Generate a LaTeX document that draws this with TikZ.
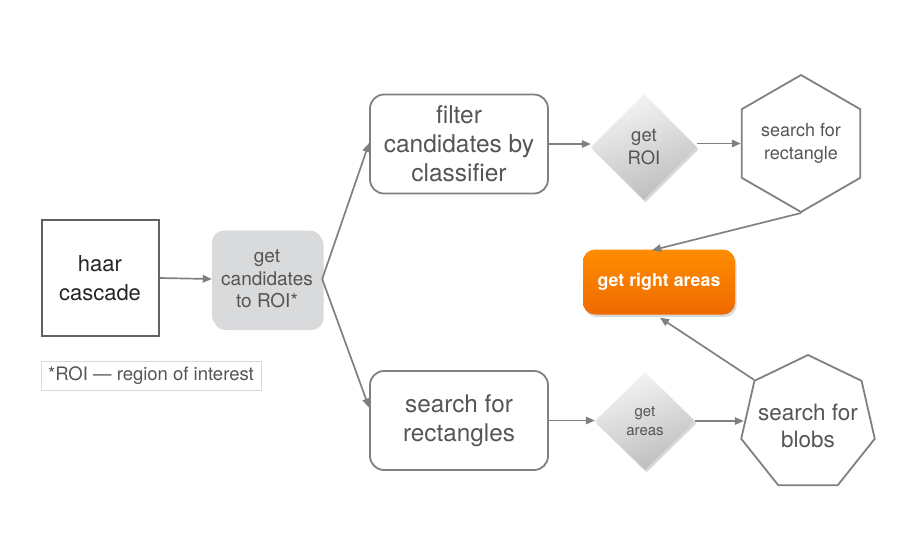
\documentclass[tikz,border=0pt]{standalone}
\usepackage{fontspec}
\setmainfont{TeX Gyre Heros}
\usetikzlibrary{shapes.geometric,arrows.meta,shadows,calc}
\definecolor{linegray}{HTML}{808080}
\definecolor{txtgray}{HTML}{555555}
\definecolor{candfill}{HTML}{D9DADC}
\definecolor{orangetop}{HTML}{FF8C00}
\definecolor{orangebot}{HTML}{EE6A00}
\tikzset{
  conn/.style={draw=linegray, line width=1.7pt, -{Triangle[length=9pt,width=7.5pt]}},
  boxline/.style={draw=linegray, line width=1.8pt, text=txtgray, align=center, inner sep=0pt},
  plaintext/.style={text=txtgray, align=center, inner sep=0pt},
  softshadow/.style={drop shadow={shadow xshift=1.5pt, shadow yshift=-2.5pt, opacity=0.25, fill=black!60}},
  dia/.style={diamond, inner sep=0pt, align=center, text=txtgray, top color=black!4, bottom color=black!26, shading angle=20, softshadow},
}
\begin{document}
\begin{tikzpicture}[x=1pt,y=-1pt]
\useasboundingbox (0,0) rectangle (919,550);
% nodes
\node[boxline, draw=black!62, line width=2pt, text=black!85, minimum width=117pt, minimum height=116pt, font=\fontsize{22}{29}\selectfont] (haar) at (100,278) {haar\\cascade};
\node[rounded corners=12pt, fill=candfill, softshadow, text=txtgray, align=center, minimum width=110pt, minimum height=97pt, inner sep=0pt, font=\fontsize{19}{22.5}\selectfont] (cand) at (267,279) {get\\candidates\\to ROI*};
\node[draw=black!15, line width=0.8pt, minimum width=220pt, minimum height=29pt, inner sep=0pt, text=txtgray, font=\fontsize{18.5}{21}\selectfont] (note) at (151,375.5) {*ROI --- region of interest};
\node[boxline, rounded corners=14pt, minimum width=178pt, minimum height=99pt, font=\fontsize{24.5}{29}\selectfont] (filter) at (459,144) {filter\\candidates by\\classifier};
\node[dia, minimum width=106pt, minimum height=106pt, font=\fontsize{18.5}{23}\selectfont] (roi) at (644,147) {get\\ROI};
\node[boxline, regular polygon, regular polygon sides=6, shape border rotate=30, minimum size=137pt] (hexa) at (801,143.5) {};
\node[plaintext, font=\fontsize{18}{23}\selectfont] (hexat) at (hexa.center) {search for\\rectangle};
\node[rounded corners=12pt, top color=orangetop, bottom color=orangebot, softshadow, minimum width=152pt, minimum height=65pt, inner sep=0pt, text=white, font=\bfseries\fontsize{17.8}{21}\selectfont] (right) at (659,282) {get right areas};
\node[boxline, rounded corners=14pt, minimum width=178pt, minimum height=99pt, font=\fontsize{24.3}{29}\selectfont] (srect) at (459,420.5) {search for\\rectangles};
\node[dia, minimum width=100pt, minimum height=98pt, font=\fontsize{15}{19}\selectfont] (areas) at (645,421) {get\\areas};
\node[boxline, regular polygon, regular polygon sides=7, minimum size=137pt] (blobs) at (808,423.5) {};
\node[plaintext, font=\fontsize{22.5}{27}\selectfont] (blobst) at ($(blobs.center)+(0,2)$) {search for\\blobs};
% connectors
\draw[conn] (haar.east) -- (cand.west);
\draw[conn] (cand.east) -- ($(filter.west)+(0,-1)$);
\draw[conn] (cand.east) -- ($(srect.west)+(0,-13)$);
\draw[conn] (filter.east) -- (filter.east -| roi.west);
\draw[conn] (roi.east |- hexa.west) -- (hexa.west);
\draw[conn] (srect.east) -- (srect.east -| areas.west);
\draw[conn] (areas.east) -- (areas.east -| blobs.west);
\draw[conn] (hexa.south) -- ($(right.north)+(-7,1)$);
\draw[conn] (blobs.141.43) -- ($(right.south)+(1,3)$);
\end{tikzpicture}
\end{document}
